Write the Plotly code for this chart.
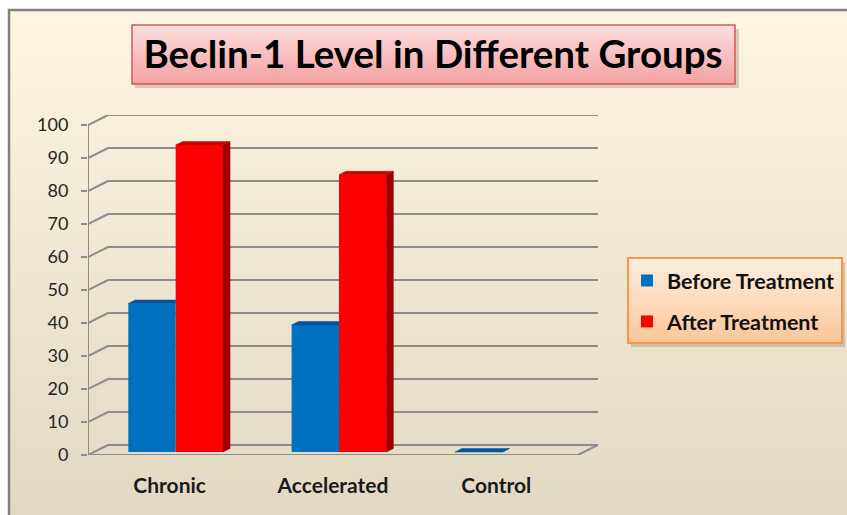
import plotly.graph_objects as go

# ---- data -------------------------------------------------------------
categories = ["Chronic", "Accelerated", "Control"]
before_treatment = [45, 38.5, 0]
after_treatment = [93, 84, None]
value_ticks = [0, 10, 20, 30, 40, 50, 60, 70, 80, 90, 100]

series_names = ["Before Treatment", "After Treatment"]
front_colors = ["#0070C0", "#FF0000"]
top_colors = ["#00539A", "#C80000"]
side_colors = ["#004A8A", "#9E0000"]

# ---- page / plot geometry (pixels) -----------------------------------
W, H = 847, 515
L, R, T, B = 88, 598, 115, 455            # plot area box

# pseudo-3D depth of the chart walls, in data units
DEPTH_X = 0.1227
DEPTH_Y = 3.03
BAR_FRONT = 0.30                          # bar front plane (fraction of depth)
BAR_DEPTH = 0.35                          # bar thickness (fraction of depth)
BAR_W = 0.29                              # width of a single bar
X0, X1 = -0.5, len(categories) - 0.5


def xp(px):
    return (px - L) / (R - L)


def yp(py):
    return (B - py) / (B - T)


def lerp_hex(c0, c1, t):
    a = [int(c0[i:i + 2], 16) for i in (1, 3, 5)]
    b = [int(c1[i:i + 2], 16) for i in (1, 3, 5)]
    return "#" + "".join(f"{round(a[k] + (b[k] - a[k]) * t):02X}" for k in range(3))


shapes = []


def gradient_box(x0, y0, x1, y1, c_top, c_bot, n):
    h = (y1 - y0) / n
    for i in range(n):
        shapes.append(dict(
            type="rect", xref="paper", yref="paper", layer="below",
            x0=xp(x0), x1=xp(x1), y0=yp(y0 + i * h), y1=yp(y0 + (i + 1) * h + 0.6),
            fillcolor=lerp_hex(c_top, c_bot, i / (n - 1)), line=dict(width=0)))


# chart background
gradient_box(9, 10, 850, 520, "#FDF4E3", "#E2D9C3", 60)
shapes.append(dict(type="rect", xref="paper", yref="paper", layer="below",
                   x0=xp(9), x1=xp(852), y0=yp(10), y1=yp(522),
                   line=dict(color="#808080", width=2.5), fillcolor="rgba(0,0,0,0)"))

# title box with shadow
shapes.append(dict(type="rect", xref="paper", yref="paper", layer="below",
                   x0=xp(135), x1=xp(739), y0=yp(29), y1=yp(88),
                   fillcolor="rgba(90,70,50,0.22)", line=dict(width=0)))
gradient_box(132, 25, 735, 84, "#FDDCDC", "#F4A3A3", 24)
shapes.append(dict(type="rect", xref="paper", yref="paper", layer="below",
                   x0=xp(132), x1=xp(735), y0=yp(25), y1=yp(84),
                   line=dict(color="#D0595B", width=1.5), fillcolor="rgba(0,0,0,0)"))

# legend box with shadow
shapes.append(dict(type="rect", xref="paper", yref="paper", layer="below",
                   x0=xp(631), x1=xp(845), y0=yp(262), y1=yp(347),
                   fillcolor="rgba(90,70,50,0.22)", line=dict(width=0)))
gradient_box(628, 258, 842, 343, "#FDEEDF", "#FBC79A", 24)
shapes.append(dict(type="rect", xref="paper", yref="paper", layer="below",
                   x0=xp(628), x1=xp(842), y0=yp(258), y1=yp(343),
                   line=dict(color="#F79646", width=2), fillcolor="rgba(0,0,0,0)"))

# walls: back gridlines, left-wall diagonals, floor edges, axis line
GRID = dict(color="#8C8C8C", width=2)
for v in value_ticks:
    shapes.append(dict(type="line", xref="x", yref="y", layer="below",
                       x0=X0, y0=v, x1=X0 + DEPTH_X, y1=v + DEPTH_Y, line=GRID))
    shapes.append(dict(type="line", xref="x", yref="y", layer="below",
                       x0=X0 + DEPTH_X, y0=v + DEPTH_Y, x1=X1 + DEPTH_X, y1=v + DEPTH_Y,
                       line=GRID))
shapes.append(dict(type="line", xref="x", yref="y", layer="below",
                   x0=X1, y0=0, x1=X1 + DEPTH_X, y1=DEPTH_Y, line=GRID))
shapes.append(dict(type="line", xref="x", yref="y", layer="below",
                   x0=X0, y0=0, x1=X1, y1=0, line=GRID))
shapes.append(dict(type="line", xref="x", yref="y", layer="below",
                   x0=X0, y0=0, x1=X0, y1=value_ticks[-1], line=GRID))
# category boundary ticks on the floor edge
for k in range(len(categories) + 1):
    shapes.append(dict(type="line", xref="x", yref="y", layer="below",
                       x0=X0 + k, y0=0, x1=X0 + k, y1=-2.0, line=GRID))

# ---- bars ---------------------------------------------------------------
fig = go.Figure()

shift = BAR_FRONT * DEPTH_X
base = BAR_FRONT * DEPTH_Y
ddx = BAR_DEPTH * DEPTH_X
ddy = BAR_DEPTH * DEPTH_Y
xs = list(range(len(categories)))
all_series = [before_treatment, after_treatment]

for s, values in enumerate(all_series):
    offset = shift - BAR_W + s * BAR_W
    fig.add_trace(go.Bar(
        x=xs, y=values, base=base, width=BAR_W, offset=offset,
        name=series_names[s], legendgroup=series_names[s],
        marker=dict(color=front_colors[s], line=dict(width=0)),
        hoverinfo="skip"))

# top and side faces that give the bars their depth
for s, values in enumerate(all_series):
    offset = shift - BAR_W + s * BAR_W
    for i, v in zip(xs, values):
        if v is None:
            continue
        xl = i + offset
        xr = xl + BAR_W
        yt = base + v
        neighbour = all_series[s + 1][i] if s + 1 < len(all_series) else None
        if neighbour is not None and neighbour >= v:
            # right edge hidden behind the taller neighbouring bar
            top_x = [xl, xr, xr, xl + ddx, xl]
        else:
            top_x = [xl, xr, xr + ddx, xl + ddx, xl]
            fig.add_trace(go.Scatter(
                x=[xr, xr + ddx, xr + ddx, xr, xr],
                y=[base, base + ddy, yt + ddy, yt, base],
                mode="lines", fill="toself", fillcolor=side_colors[s],
                line=dict(color=side_colors[s], width=0.5),
                showlegend=False, hoverinfo="skip"))
        top_y = [yt, yt, yt + ddy, yt + ddy, yt]
        fig.add_trace(go.Scatter(
            x=top_x, y=top_y, mode="lines", fill="toself", fillcolor=top_colors[s],
            line=dict(color=top_colors[s], width=0.5),
            showlegend=False, hoverinfo="skip"))

fig.update_layout(
    width=W, height=H,
    margin=dict(l=L, r=W - R, t=T, b=H - B, pad=0, autoexpand=False),
    paper_bgcolor="white",
    plot_bgcolor="rgba(0,0,0,0)",
    barmode="overlay",
    shapes=shapes,
    title=dict(text="Beclin-1 Level in Different Groups",
               xref="container", yref="container",
               x=433 / W, y=1 - 55 / H, xanchor="center", yanchor="middle",
               font=dict(family="Lato", size=38.5, color="black", weight="bold")),
    xaxis=dict(range=[X0, X1 + DEPTH_X], tickvals=xs, ticktext=categories,
               showgrid=False, zeroline=False, showline=False, ticks="",
               ticklabelstandoff=16,
               tickfont=dict(family="Lato", size=21, color="#1A1A1A", weight="bold")),
    yaxis=dict(range=[0, value_ticks[-1] + DEPTH_Y], tickvals=value_ticks,
               showgrid=False, zeroline=False, showline=False,
               ticks="outside", ticklen=6, tickwidth=2, tickcolor="#8C8C8C",
               ticklabelstandoff=9,
               tickfont=dict(family="Lato", size=18, color="#262626")),
    legend=dict(x=xp(627), y=yp(260), xanchor="left", yanchor="top",
                bgcolor="rgba(0,0,0,0)", borderwidth=0,
                tracegroupgap=10, traceorder="grouped",
                font=dict(family="Lato", size=21.5, color="#111111", weight="bold")),
)

fig.write_html("out.html")
